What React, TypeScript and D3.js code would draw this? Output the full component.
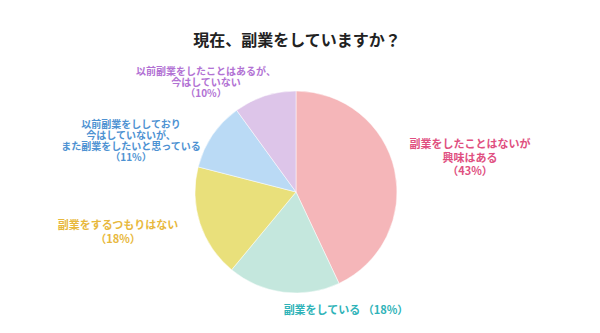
import React from 'react';
import * as d3 from 'd3';

// 回答データ
const categories = [
  '副業をしたことはないが興味はある',
  '副業をしている',
  '副業をするつもりはない',
  '以前副業をしており今はしていないが、また副業をしたいと思っている',
  '以前副業をしたことはあるが、今はしていない',
];
const values = [43, 18, 18, 11, 10];
const labelLines = [
  ['副業をしたことはないが', '興味はある', '（43%）'],
  ['副業をしている （18%）'],
  ['副業をするつもりはない', '（18%）'],
  ['以前副業をししており', '今はしていないが、', 'また副業をしたいと思っている', '（11%）'],
  ['以前副業をしたことはあるが、', '今はしていない', '（10%）'],
];
const sliceColors = ['#f5b6b9', '#c4e7dd', '#e9e07b', '#badaf5', '#ddc5e9'];
const textColors = ['#e04f80', '#2fb3b8', '#e8b83c', '#4e92d2', '#b272d4'];

const W = 600, H = 333;
const cx = 296, cy = 192, R = 101;

// ラベル位置 (layout)
const labelPos: [number, number][] = [
  [470, 148], [346, 314], [118, 229], [131, 128], [206, 75],
];
const lineHs = [13.5, 13, 14, 11, 11];
const fontSizes = [11, 11, 11, 10, 10];

export default function App() {
  const pie = d3.pie<number>().sort(null).value(d => d);
  const arcs = pie(values);
  const arc = d3.arc<d3.PieArcDatum<number>>().innerRadius(0).outerRadius(R);

  return (
    <svg width={W} height={H} style={{ display: 'block', position: 'absolute', left: 0, top: 0, background: '#fff' }}
      fontFamily="'Noto Sans CJK JP', 'Noto Sans', sans-serif">
      <text x={297} y={46} textAnchor="middle" fontSize={16} fontWeight="bold" fill="#222">
        現在、副業をしていますか？
      </text>
      <g transform={`translate(${cx},${cy})`}>
        {arcs.map((a, i) => (
          <path key={categories[i]} d={arc(a) || ''} fill={sliceColors[i]} stroke="#fff" strokeWidth={0.5} />
        ))}
      </g>
      {labelLines.map((lines, i) => (
        <text key={i} textAnchor="middle" fontSize={fontSizes[i]} fontWeight="bold" fill={textColors[i]}>
          {lines.map((l, j) => (
            <tspan key={j} x={labelPos[i][0]} y={labelPos[i][1] + j * lineHs[i]}>{l}</tspan>
          ))}
        </text>
      ))}
    </svg>
  );
}
